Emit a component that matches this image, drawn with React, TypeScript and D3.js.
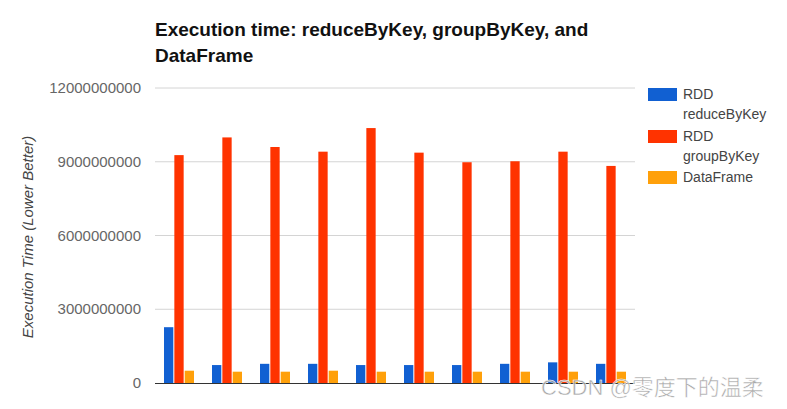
import React from "react";
import * as d3 from "d3";

const categories = ["1", "2", "3", "4", "5", "6", "7", "8", "9", "10"];
const seriesNames = ["RDD reduceByKey", "RDD groupByKey", "DataFrame"];
const legendLines = [["RDD", "reduceByKey"], ["RDD", "groupByKey"], ["DataFrame"]];
const reduceByKey = [2.27e9, 0.73e9, 0.78e9, 0.78e9, 0.73e9, 0.73e9, 0.73e9, 0.78e9, 0.84e9, 0.78e9];
const groupByKey = [9.27e9, 9.99e9, 9.6e9, 9.41e9, 10.37e9, 9.37e9, 8.98e9, 9.02e9, 9.41e9, 8.83e9];
const dataFrame = [0.5e9, 0.46e9, 0.46e9, 0.5e9, 0.46e9, 0.46e9, 0.46e9, 0.46e9, 0.46e9, 0.46e9];
const yTicks = [0, 3000000000, 6000000000, 9000000000, 12000000000];
const colors = ["#1160d2", "#ff3300", "#ffa00a"];

export default function App() {
  const W = 787, H = 409;
  const left = 155, right = 635, top = 88, bottom = 383;
  const y = d3.scaleLinear().domain([0, 12e9]).range([bottom, top]);
  const x0 = d3.scaleBand().domain(categories).range([left, right]).paddingInner(0.375).paddingOuter(0.1875);
  const x1 = d3.scaleBand().domain(seriesNames).range([0, x0.bandwidth()]).paddingInner(0.1);
  const series = [reduceByKey, groupByKey, dataFrame];
  const font = "Liberation Sans, Arial, sans-serif";

  return (
    <svg width={W} height={H} style={{ position: "absolute", left: 0, top: 0, background: "#fff" }} fontFamily={font}>
      <text x={155} y={36} fontSize={19} fontWeight="bold" fill="#111">Execution time: reduceByKey, groupByKey, and</text>
      <text x={155} y={62} fontSize={19} fontWeight="bold" fill="#111">DataFrame</text>
      {yTicks.map((t) => (
        <g key={t}>
          {t !== 0 && <line x1={left} x2={right} y1={y(t)} y2={y(t)} stroke="#d4d4d4" strokeWidth={1} />}
          <text x={141} y={y(t) + 5} fontSize={15} fill="#666" textAnchor="end">{t}</text>
        </g>
      ))}
      <text transform={`translate(33,237) rotate(-90)`} fontSize={15} fontStyle="italic" fill="#444" textAnchor="middle">Execution Time (Lower Better)</text>
      {categories.map((c, i) => (
        <g key={c} transform={`translate(${x0(c)},0)`}>
          {series.map((s, j) => (
            <rect key={j} x={x1(seriesNames[j])} y={y(s[i])} width={x1.bandwidth()} height={y(0) - y(s[i])} fill={colors[j]} />
          ))}
        </g>
      ))}
      <line x1={left} x2={right} y1={bottom + 0.5} y2={bottom + 0.5} stroke="#333" strokeWidth={1} />
      {legendLines.map((lines, i) => {
        const yTop = [88, 130, 171][i];
        return (
          <g key={i}>
            <rect x={648} y={yTop} width={29} height={13} fill={colors[i]} />
            {lines.map((l, k) => (
              <text key={k} x={683} y={yTop + 11 + k * 20} fontSize={14} fill="#444">{l}</text>
            ))}
          </g>
        );
      })}
      <text x={541} y={395} fontSize={22} fill="#999" fillOpacity={0.85} stroke="#fff" strokeWidth={0.5} fontFamily="Liberation Sans, Noto Sans CJK SC, sans-serif">CSDN @零度下的温柔</text>
    </svg>
  );
}
